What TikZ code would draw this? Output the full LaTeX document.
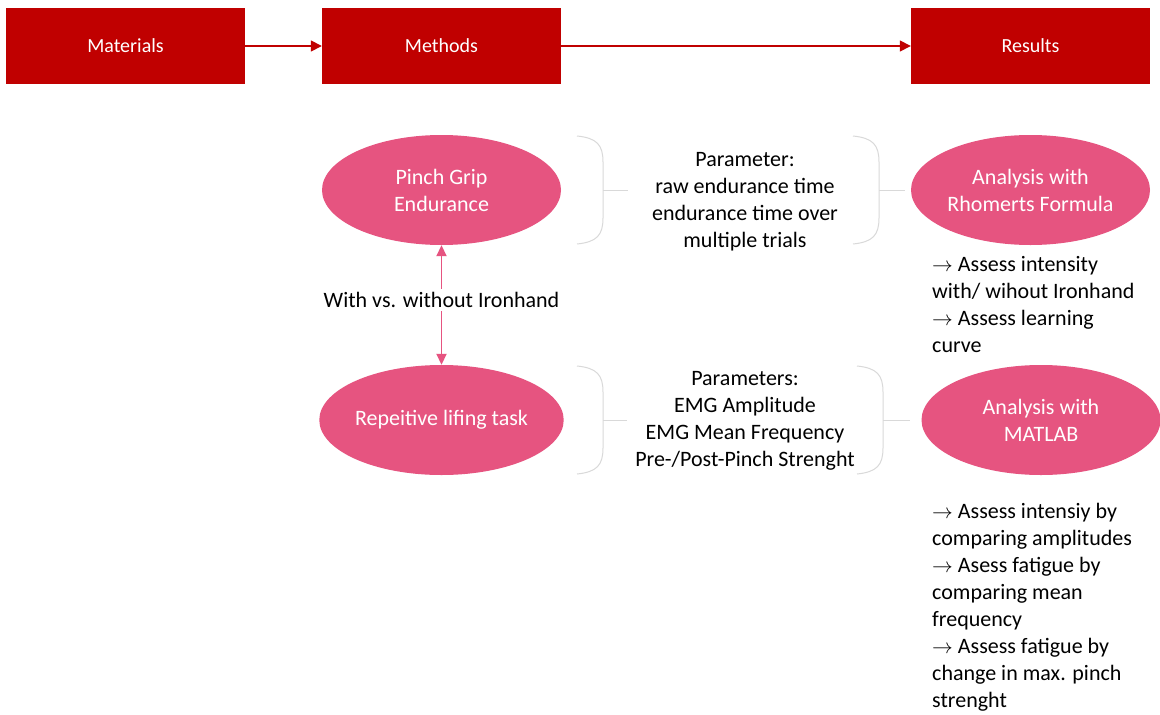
\documentclass[tikz,border=0pt]{standalone}
\usepackage{fontspec}
\setmainfont{Carlito}
\usetikzlibrary{shapes.geometric,arrows.meta}
\definecolor{dunkelrot}{RGB}{192,0,0}
\definecolor{rosa}{RGB}{230,84,128}
\definecolor{klammergrau}{RGB}{217,217,217}
\newcommand{\pfeil}{$\rightarrow$}
\tikzset{
	stufe/.style={rectangle, fill=dunkelrot, text=white, minimum width=239pt, minimum height=76pt, inner sep=0pt, font=\fontsize{20}{24}\selectfont},
	methode/.style={ellipse, fill=rosa, text=white, minimum width=239pt, minimum height=110pt, inner sep=0pt, align=center, font=\fontsize{22}{27}\selectfont},
	textblock/.style={inner sep=0pt, text=black, font=\fontsize{22}{27}\selectfont},
	klammer/.style={draw=klammergrau, line width=1pt},
	rotpfeil/.style={draw=dunkelrot, line width=1.5pt, -{Triangle[length=11pt,width=11pt]}},
}
\begin{document}
\begin{tikzpicture}[x=1pt,y=-1pt]
	% Hintergrund und Bildgroesse
	\fill[white] (0,0) rectangle (1160,715);
	\useasboundingbox (0,0) rectangle (1160,715);
	
	% Kopfzeile mit den drei Stufen
	\node[stufe] (mat) at (125.5,46) {Materials};
	\node[stufe] (met) at (441.5,46) {Methods};
	\node[stufe] (res) at (1030.5,46) {Results};
	\draw[rotpfeil] (mat) -- (met);
	\draw[rotpfeil] (met) -- (res);
	
	% Methoden und Auswertungen
	\node[methode] (pge) at (441.5,190) {Pinch Grip\\Endurance};
	\node[methode] (rlt) at (441.5,420) {Repeitive lifing task};
	\node[methode] (rho) at (1030.5,190) {Analysis with\\Rhomerts Formula};
	\node[methode] (mtl) at (1041,420) {Analysis with\\MATLAB};
	
	% Doppelpfeil zwischen den Methoden
	\draw[rosa, line width=1.8pt, {Triangle[length=11pt,width=10pt]}-{Triangle[length=11pt,width=10pt]}]
		(pge) -- node[textblock, fill=white, inner sep=3pt, pos=0.46] (ira) {With vs. without Ironhand} (rlt);
	
	% Graue Klammern links und rechts der Parameter
	\foreach \xb/\ym/\xe in {577/190/628, 853/190/905, 577/420/627, 857/420/910} {
		\draw[klammer] (\xb,\ym-54) .. controls (\xb+20,\ym-52) and (\xb+26,\ym-45) .. (\xb+26,\ym-28)
			-- (\xb+26,\ym+28) .. controls (\xb+26,\ym+45) and (\xb+20,\ym+52) .. (\xb,\ym+54);
		\draw[klammer] (\xb+26,\ym) -- (\xe,\ym);
	}
	
	% Parameter
	\node[textblock, align=center, anchor=north] (par1) at (745,152) {Parameter:\\raw endurance time\\endurance time over\\multiple trials};
	\node[textblock, align=center, anchor=north] (par2) at (745,371) {Parameters:\\EMG Amplitude\\EMG Mean Frequency\\Pre-/Post-Pinch Strenght};
	
	% Ergebnisse
	\node[textblock, align=left, anchor=north west] (erg1) at (932,256) {\pfeil{} Assess intensity\\with/ wihout Ironhand\\\pfeil{} Assess learning\\curve};
	\node[textblock, align=left, anchor=north west] (erg2) at (932,503) {\pfeil{} Assess intensiy by\\comparing amplitudes\\\pfeil{} Asess fatigue by\\comparing mean\\frequency\\\pfeil{} Assess fatigue by\\change in max. pinch\\strenght};
\end{tikzpicture}
\end{document}
